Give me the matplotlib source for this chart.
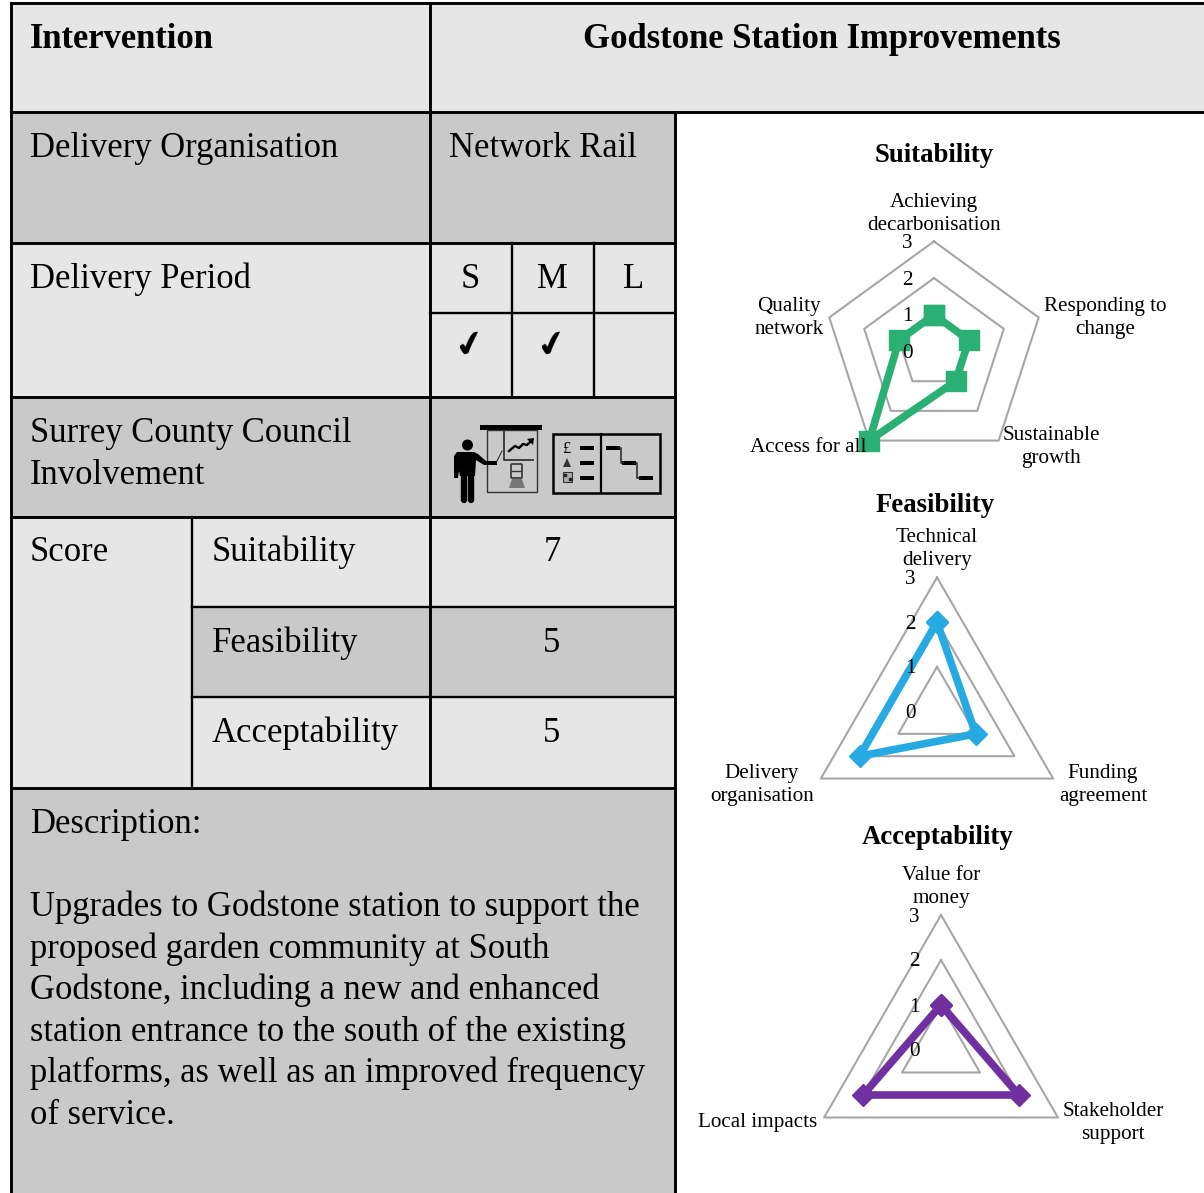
import numpy as np
import matplotlib
matplotlib.use("Agg")
import matplotlib.pyplot as plt
from matplotlib.patches import Rectangle, Circle, Polygon, FancyBboxPatch

W, H = 1204, 1193
LIGHT = '#e6e6e6'
DARK = '#c9c9c9'
GREY = '#a6a6a6'

plt.rcParams['font.family'] = ['Liberation Serif', 'DejaVu Sans']

# radar data
suit_labels = ['Achieving\ndecarbonisation', 'Responding to\nchange', 'Sustainable\ngrowth', 'Access for all', 'Quality\nnetwork']
suit_values = [1, 1, 1, 3, 1]
feas_labels = ['Technical\ndelivery', 'Funding\nagreement', 'Delivery\norganisation']
feas_values = [2, 1, 2]
acc_labels = ['Value for\nmoney', 'Stakeholder\nsupport', 'Local impacts']
acc_values = [1, 2, 2]
radial_ticks = [0, 1, 2, 3]

# table text
description = ['Upgrades to Godstone station to support the',
               'proposed garden community at South',
               'Godstone, including a new and enhanced',
               'station entrance to the south of the existing',
               'platforms, as well as an improved frequency',
               'of service.']
score_names = ['Suitability', 'Feasibility', 'Acceptability']
score_values = [7, 5, 5]
periods = ['S', 'M', 'L']
period_ticks = [True, True, False]

fig = plt.figure(figsize=(W / 100, H / 100), dpi=100)
bg = fig.add_axes([0, 0, 1, 1])
bg.set_xlim(0, W)
bg.set_ylim(H, 0)
bg.axis('off')
# labels go on top of the radar lines
top = fig.add_axes([0, 0, 1, 1], zorder=10)
top.set_xlim(0, W)
top.set_ylim(H, 0)
top.axis('off')


def cell(x0, y0, x1, y1, color):
    bg.add_patch(Rectangle((x0, y0), x1 - x0, y1 - y0, fc=color, ec='none', zorder=1))


def hline(x0, x1, y, lw=2.1):
    bg.plot([x0, x1], [y, y], color='black', lw=lw, solid_capstyle='projecting', zorder=3)


def vline(x, y0, y1, lw=2.1):
    bg.plot([x, x], [y0, y1], color='black', lw=lw, solid_capstyle='projecting', zorder=3)


def txt(x, y, s, size=24.9, **kw):
    bg.text(x, y, s, fontsize=size, va='baseline', zorder=4, **kw)


# cell fills
cell(11, 3, 1204, 112, LIGHT)
cell(11, 112, 675, 243, DARK)
cell(11, 243, 675, 397, LIGHT)
cell(11, 397, 675, 517, DARK)
cell(11, 517, 675, 788, LIGHT)
cell(192, 607, 675, 697, DARK)
cell(11, 788, 675, H, DARK)

# grid lines
hline(11, 1204, 3)
hline(11, 1204, 112)
hline(11, 675, 243)
hline(430, 675, 313, lw=1.7)
hline(11, 675, 397)
hline(11, 675, 517)
hline(192, 675, 607, lw=1.7)
hline(192, 675, 697, lw=1.7)
hline(11, 675, 788)
vline(11, 3, H)
vline(430, 3, 788)
vline(675, 112, H)
vline(511.5, 243, 397, lw=1.7)
vline(593.5, 243, 397, lw=1.7)
vline(192, 517, 788, lw=1.7)

# table text
txt(30, 48, 'Intervention', fontweight='bold')
txt(822, 48, 'Godstone Station Improvements', ha='center', fontweight='bold')
txt(30, 157, 'Delivery Organisation')
txt(449, 157, 'Network Rail')
txt(30, 288, 'Delivery Period')
for xc, p, t in zip([470, 552, 634], periods, period_ticks):
    txt(xc, 288, p, ha='center')
    if t:
        bg.text(xc, 345, '\u2714', fontsize=25, ha='center', va='center', rotation=14,
                rotation_mode='anchor', family='DejaVu Sans', zorder=4)
txt(30, 442, 'Surrey County Council')
txt(30, 484, 'Involvement')
txt(30, 561, 'Score')
for y, name, v in zip([561, 652, 742], score_names, score_values):
    txt(212, y, name)
    txt(552, y, str(v), ha='center')
txt(30, 833, 'Description:')
for i, line in enumerate(description):
    txt(30, 916 + i * 41.6, line)

# presenter icon
bg.add_patch(Rectangle((480, 425), 62, 5, fc='black', ec='none', zorder=4))
bg.add_patch(Rectangle((487, 430), 50, 62, fc='none', ec='#333333', lw=1, zorder=4))
bg.plot([504, 504, 533], [432, 460, 460], color='#333333', lw=1.3, zorder=4)
bg.plot([509, 515, 519, 523, 527, 531], [451, 446, 448, 444, 445, 441], color='black', lw=1.7, zorder=4)
bg.add_patch(Polygon([[527, 439], [534, 438], [533, 445]], fc='black', ec='none', zorder=4))
bg.add_patch(FancyBboxPatch((512, 465), 9, 12, boxstyle='round,pad=1', fc='none', ec='#333333', lw=1.2, zorder=4))
bg.plot([512, 521], [471, 471], color='#333333', lw=1, zorder=4)
bg.add_patch(Polygon([[509, 488], [525, 488], [522, 479], [512, 479]], fc='#777777', ec='none', zorder=4))
# person
bg.add_patch(Circle((467.5, 445), 5.5, fc='black', ec='none', zorder=4))
bg.add_patch(Polygon([[454, 456], [457, 452], [474, 452], [478, 454], [486, 461], [497, 461], [497, 465],
                      [484, 465], [476, 460], [475, 476], [460, 476], [459, 471], [458, 478], [454, 478]],
                     fc='black', ec='none', zorder=4))
bg.plot([463.5, 463.5], [474, 500], color='black', lw=4.6, solid_capstyle='round', zorder=4)
bg.plot([471, 471], [474, 500], color='black', lw=4.6, solid_capstyle='round', zorder=4)
bg.plot([497, 502], [461, 451], color='#333333', lw=0.8, zorder=4)

# timeline icon
bg.add_patch(Rectangle((553, 434), 106.5, 59, fc='none', ec='black', lw=1.8, zorder=4))
vline(600.5, 434, 493, lw=1.6)
for y, x0 in zip([448, 463, 478], [606, 622, 639]):
    bg.add_patch(Rectangle((580, y - 2), 14, 4, fc='black', ec='none', zorder=4))
    bg.add_patch(Rectangle((x0, y - 2), 13.5, 4, fc='black', ec='none', zorder=4))
bg.plot([619, 620.5, 620.5, 623], [448, 448, 463, 463], color='#222222', lw=1.1, zorder=4)
bg.plot([635, 637, 637, 640], [463, 463, 478, 478], color='#222222', lw=1.1, zorder=4)
bg.text(566.5, 449, '\u00a3', fontsize=12, ha='center', va='center', zorder=4)
bg.add_patch(Polygon([[563, 467], [571, 467], [567, 458]], fc='#333333', ec='none', zorder=4))
bg.add_patch(Rectangle((562.5, 472), 9, 10, fc='#aaaaaa', ec='#333333', lw=0.8, zorder=4))
bg.plot([564.5, 569.5], [475, 479], ls='none', marker='s', ms=1.5, color='#222222', zorder=5)


def radar(title, title_xy, labels, label_xy, values, color, marker, msize, cx, cy, unit):
    r = 3 * unit
    ax = fig.add_axes([(cx - r) / W, 1 - (cy + r) / H, 2 * r / W, 2 * r / H], projection='polar', zorder=5)
    ax.set_theta_zero_location('N')
    ax.set_theta_direction(-1)
    ax.set_ylim(0, 3)
    ax.patch.set_alpha(0)
    ax.grid(False)
    ax.spines['polar'].set_visible(False)
    ax.set_xticks([])
    ax.set_yticks([])
    n = len(values)
    th = np.arange(n + 1) * 2 * np.pi / n
    for g in radial_ticks[1:]:
        ax.plot(th, [g] * (n + 1), color=GREY, lw=1.5, clip_on=False, zorder=2)
    ax.plot(th, list(values) + [values[0]], color=color, lw=5.5, clip_on=False, zorder=3,
            marker=marker, ms=msize, mec=color, mfc=color)
    # tick numbers sit just left of the top spoke
    for g in radial_ticks:
        top.text(cx - 26.5, cy - g * unit + 2, str(g), fontsize=15.2, ha='center', va='center')
    for s, (x, y) in zip(labels, label_xy):
        top.text(x, y, s, fontsize=15.2, ha='center', va='center', linespacing=1.29)
    top.text(title_xy[0], title_xy[1], title, fontsize=19.3, fontweight='bold', ha='center', va='center')


radar('Suitability', (934, 156), suit_labels,
      [(934, 214), (1105, 318), (1051, 447), (808, 448), (789, 318)],
      suit_values, '#2ab074', 's', 14, 934, 351.5, 36.7)
radar('Feasibility', (935, 506), feas_labels,
      [(937, 549), (1103, 785), (762, 785)],
      feas_values, '#27a9e1', 'D', 11, 937, 711.5, 44.7)
radar('Acceptability', (938, 838), acc_labels,
      [(941, 887), (1113, 1123), (758, 1123)],
      acc_values, '#7030a0', 'D', 11, 941, 1050, 45)

fig.savefig('out.png', dpi=100)
